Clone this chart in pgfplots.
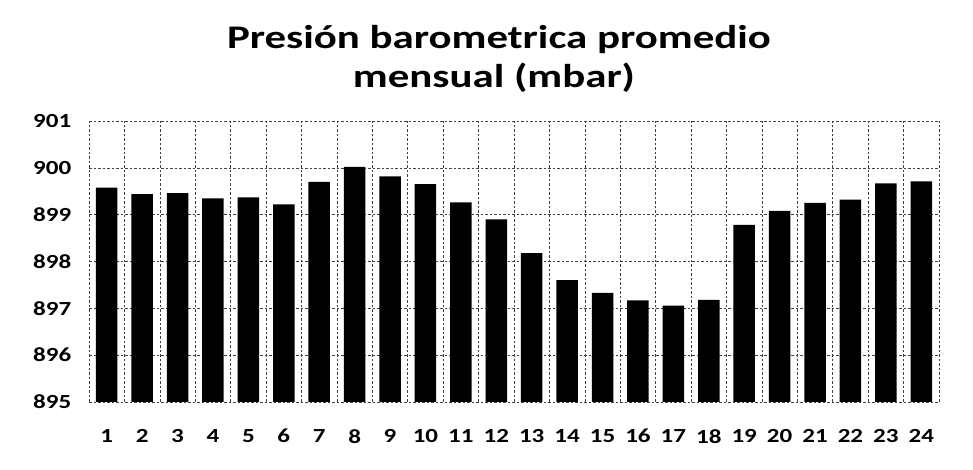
\documentclass[border=0pt]{standalone}
\usepackage{pgfplots}
\pgfplotsset{compat=1.18}
\usepackage{fontspec}
\setmainfont{Carlito}
\begin{document}
\begin{tikzpicture}[x=1pt,y=1pt]
\useasboundingbox (0,0) rectangle (973,470);
\begin{axis}[
  at={(89pt,68pt)}, anchor=south west,
  scale only axis, width=850pt, height=281pt,
  xmin=0.5, xmax=24.5, ymin=895, ymax=901,
  xtick={1,...,24},
  minor xtick={0.5,1.5,...,24.5},
  ytick={895,896,...,901},
  ymajorgrids, xminorgrids,
  grid style={black!75, line width=0.6pt, dash pattern=on 2.5pt off 2pt},
  minor grid style={black!75, line width=0.6pt, dash pattern=on 2.5pt off 2pt},
  axis line style={draw=none},
  major tick length=0pt, minor tick length=0pt,
  tick style={draw=none},
  /pgf/number format/assume math mode=true,
  yticklabel={\pgfmathprintnumber[fixed,precision=0]{\tick}},
  ticklabel style={font=\fontsize{20}{24}\selectfont\bfseries, xscale=1.25, inner sep=0pt},
  y tick label style={anchor=east, xshift=-14pt},
  x tick label style={anchor=north, yshift=-27pt},
  ybar, bar width=21.5pt,
]
\addplot[fill=black, draw=none] coordinates {
(1,899.58) (2,899.44) (3,899.46) (4,899.35) (5,899.37) (6,899.22)
(7,899.70) (8,900.02) (9,899.82) (10,899.65) (11,899.26) (12,898.90)
(13,898.18) (14,897.60) (15,897.33) (16,897.17) (17,897.06) (18,897.18)
(19,898.78) (20,899.08) (21,899.25) (22,899.32) (23,899.67) (24,899.71)
};
\end{axis}
\node[font=\fontsize{33}{40}\selectfont\bfseries, xscale=1.3, anchor=base, inner sep=0pt] at (499,421) {Presión barometrica promedio};
\node[font=\fontsize{33}{40}\selectfont\bfseries, xscale=1.3, anchor=base, inner sep=0pt] at (494,382) {mensual (mbar)};
\end{tikzpicture}
\end{document}
